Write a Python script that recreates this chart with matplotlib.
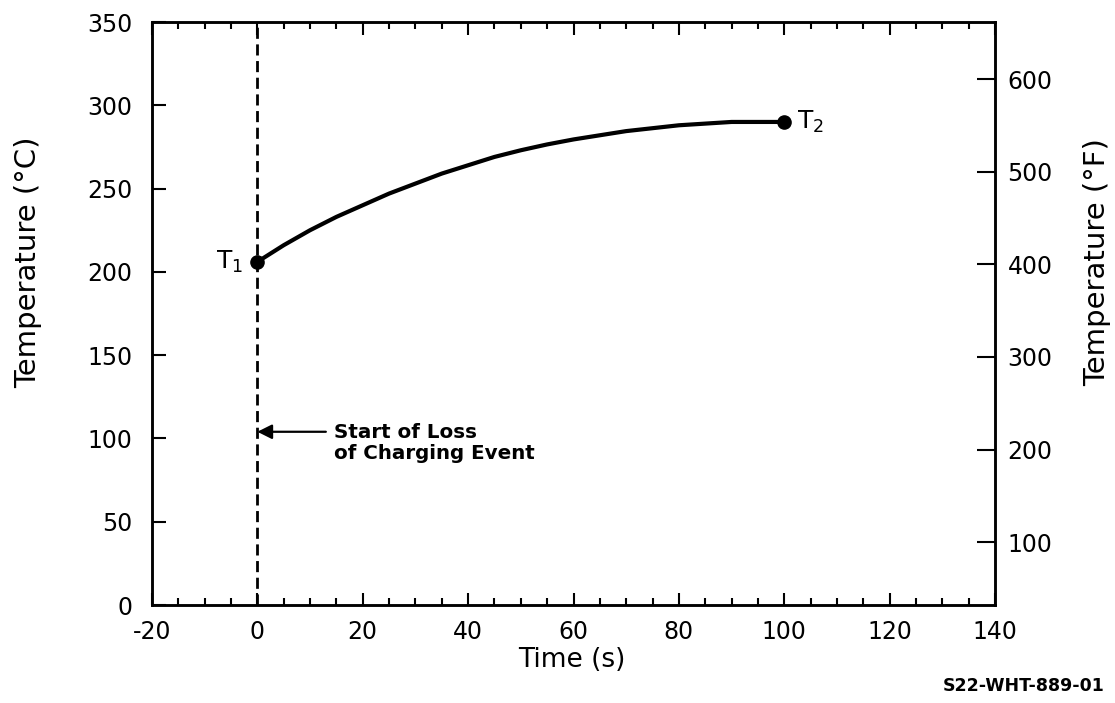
import matplotlib
matplotlib.use("Agg")
import matplotlib.pyplot as plt
from matplotlib.ticker import MultipleLocator, FixedLocator

plt.rcParams['font.family'] = ['DejaVu Sans']
plt.rcParams['axes.unicode_minus'] = False
plt.rcParams['mathtext.fontset'] = 'dejavusans'

# Temperature history after the loss of charging event
time_s = [0, 5, 10, 15, 20, 25, 30, 35, 40, 45, 50, 55, 60, 70, 80, 90, 100]
temp_c = [206, 216, 225, 233, 240, 247, 253, 259, 264, 269, 273, 276.5,
          279.5, 284.5, 288, 290, 290]

x_ticks = [-20, 0, 20, 40, 60, 80, 100, 120, 140]
y_ticks_c = [0, 50, 100, 150, 200, 250, 300, 350]
y_ticks_f = [100, 200, 300, 400, 500, 600]

event_time = 0
arrow_temp = 104

fig = plt.figure(figsize=(11.15, 7.03), dpi=100)
ax = fig.add_axes([0.1363, 0.1394, 0.7561, 0.8293])

ax.set_xlim(-20, 140)
ax.set_ylim(0, 350)

# curve and end points
ax.plot(time_s, temp_c, color='black', lw=3.0, solid_capstyle='round',
        solid_joinstyle='round', zorder=3)
ax.plot([time_s[0], time_s[-1]], [temp_c[0], temp_c[-1]], 'o', color='black',
        ms=9.5, zorder=4)

# event line
ax.axvline(event_time, color='black', lw=2.0, ls=(0, (4, 2)), zorder=2)

ax.text(time_s[0] - 2.8, temp_c[0], r'T$_{1}$', ha='right', va='center',
        fontsize=18)
ax.text(time_s[-1] + 2.5, temp_c[-1], r'T$_{2}$', ha='left', va='center',
        fontsize=18)

ax.annotate('', xy=(event_time, arrow_temp), xytext=(13, arrow_temp),
            arrowprops=dict(arrowstyle='-|>', color='black', lw=1.6,
                            mutation_scale=22, shrinkA=0, shrinkB=0))
ax.text(14.5, 109, 'Start of Loss\nof Charging Event', ha='left', va='top',
        fontsize=14.3, fontweight='bold', linespacing=1.1)

# spines and ticks
for s in ax.spines.values():
    s.set_linewidth(1.8)

ax.xaxis.set_major_locator(FixedLocator(x_ticks))
ax.xaxis.set_minor_locator(MultipleLocator(5))
ax.yaxis.set_major_locator(FixedLocator(y_ticks_c))
ax.tick_params(axis='x', which='major', direction='in', length=9, width=1.5,
               top=True, labelsize=17, pad=11)
ax.tick_params(axis='x', which='minor', direction='in', length=5, width=1.5,
               top=True)
ax.tick_params(axis='y', which='major', direction='in', length=10, width=1.5,
               labelsize=17, pad=14)

# Fahrenheit scale on the right
ax2 = ax.twinx()
ax2.set_ylim(0 * 9 / 5 + 32, 350 * 9 / 5 + 32)
ax2.yaxis.set_major_locator(FixedLocator(y_ticks_f))
ax2.tick_params(axis='y', direction='in', length=13, width=1.5, labelsize=17,
                pad=9)
for s in ax2.spines.values():
    s.set_linewidth(1.8)

fig.text(0.513, 0.061, 'Time (s)', ha='center', va='center', fontsize=19)
fig.text(0.025, 0.627, 'Temperature (°C)', ha='center', va='center',
         rotation=90, fontsize=21)
fig.text(0.984, 0.627, 'Temperature (°F)', ha='center', va='center',
         rotation=90, fontsize=21)

fig.text(0.991, 0.012, 'S22-WHT-889-01', ha='right', va='bottom', fontsize=12.5,
         fontweight='bold')

fig.savefig('out.png', dpi=100)
